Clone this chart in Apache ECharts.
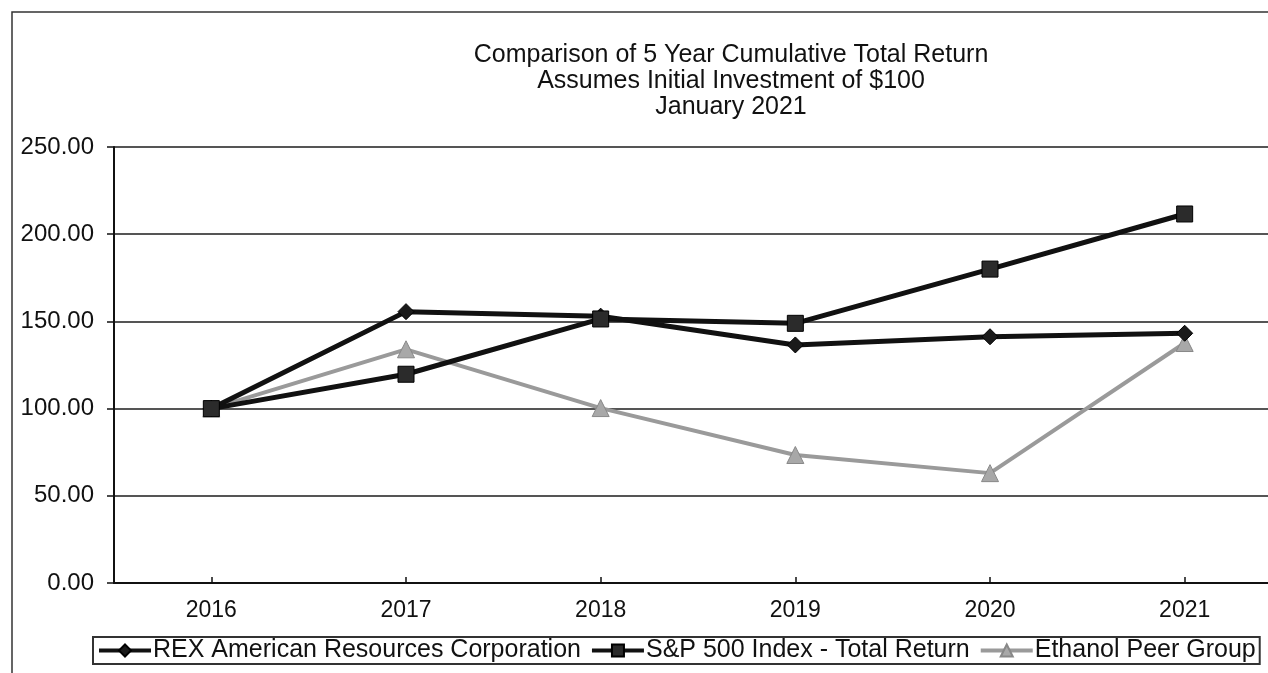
<!DOCTYPE html>
<html>
<head>
<meta charset="utf-8">
<script src="https://cdn.jsdelivr.net/npm/echarts@6/dist/echarts.min.js"></script>
<style>
html,body{margin:0;padding:0;background:#fff;}
#chart{width:1268px;height:673px;}
</style>
</head>
<body>
<div id="chart"></div>
<script>
const titleLines = ['Comparison of 5 Year Cumulative Total Return', 'Assumes Initial Investment of $100', 'January 2021'];
const years = ['2016', '2017', '2018', '2019', '2020', '2021'];
const seriesNames = ['REX American Resources Corporation', 'S&P 500 Index - Total Return', 'Ethanol Peer Group'];
const rexValues = [100, 155.6, 153.0, 136.5, 141.2, 143.2];
const spValues = [100, 119.7, 151.4, 148.9, 180.0, 211.6];
const ethanolValues = [100, 134.0, 100.3, 73.4, 63.0, 137.6];
const yTicks = [0, 50, 100, 150, 200, 250];

const FONT = '"Liberation Sans", Arial, sans-serif';
const chart = echarts.init(document.getElementById('chart'));

const option = {
  backgroundColor: '#ffffff',
  animation: false,
  title: {
    text: titleLines.join('\n'),
    left: 726,
    top: 37,
    textAlign: 'center',
    textStyle: {fontFamily: FONT, fontSize: 25, fontWeight: 'normal', color: '#111', lineHeight: 26}
  },
  graphic: [{
    type: 'rect',
    shape: {x: 12, y: 12, width: 1300, height: 720},
    style: {fill: 'none', stroke: '#333', lineWidth: 1.5},
    silent: true
  }],
  legend: {
    left: 93,
    top: 637,
    padding: [1, 4, 1, 4],
    itemGap: 9,
    itemWidth: 52,
    itemHeight: 15,
    borderColor: '#333',
    borderWidth: 2,
    lineStyle: {width: 4},
    textStyle: {fontFamily: FONT, fontSize: 25, color: '#111', padding: [0, 0, 0, -3]},
    data: seriesNames
  },
  grid: {left: 114, width: 1168, top: 147, height: 436, containLabel: false, outerBoundsMode: 'none'},
  xAxis: {
    type: 'category',
    data: years,
    boundaryGap: true,
    axisLine: {lineStyle: {color: '#111', width: 2}},
    axisTick: {show: true, inside: true, alignWithLabel: true, length: 6, lineStyle: {color: '#111', width: 1.5}},
    axisLabel: {fontFamily: FONT, fontSize: 23, color: '#111', margin: 16}
  },
  yAxis: {
    type: 'value',
    min: yTicks[0],
    max: yTicks[yTicks.length - 1],
    interval: 50,
    axisLine: {show: true, lineStyle: {color: '#111', width: 2}},
    axisTick: {show: true, length: 7, lineStyle: {color: '#111', width: 1.5}},
    axisLabel: {fontFamily: FONT, fontSize: 24, color: '#111', margin: 20,
      formatter: v => v.toFixed(2)},
    splitLine: {show: true, lineStyle: {color: '#555', width: 2}}
  },
  series: [
    {
      name: seriesNames[0], type: 'line', data: rexValues,
      symbol: 'diamond', symbolSize: 16,
      lineStyle: {color: '#111', width: 5},
      itemStyle: {color: '#1a1a1a', borderColor: '#000', borderWidth: 1},
      z: 3
    },
    {
      name: seriesNames[1], type: 'line', data: spValues,
      symbol: 'rect', symbolSize: 16,
      lineStyle: {color: '#111', width: 5},
      itemStyle: {color: '#2b2b2b', borderColor: '#000', borderWidth: 1},
      z: 4
    },
    {
      name: seriesNames[2], type: 'line', data: ethanolValues,
      symbol: 'triangle', symbolSize: 17,
      lineStyle: {color: '#9a9a9a', width: 4},
      itemStyle: {color: '#a8a8a8', borderColor: '#888', borderWidth: 1},
      z: 2
    }
  ]
};
chart.setOption(option);
</script>
</body>
</html>
